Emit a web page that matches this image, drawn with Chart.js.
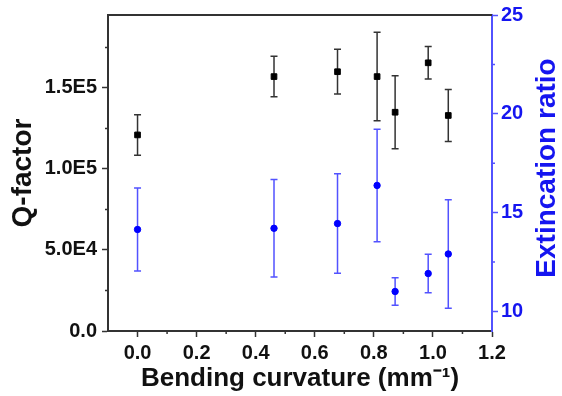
<!DOCTYPE html>
<html>
<head>
  <meta charset="utf-8">
  <title>Q-factor and extinction ratio vs bending curvature</title>
  <script src="https://cdn.jsdelivr.net/npm/chart.js"></script>
  <style>
    body {
      margin: 0;
      padding: 0;
      background: #fff;
    }
  </style>
</head>
<body>
  <canvas id="myChart" width="562" height="396"></canvas>

  <script>
    // values
    const curvature = [0, 0.462, 0.677, 0.811, 0.872, 0.984, 1.052];
    const qFactor = [1.21e5, 1.57e5, 1.60e5, 1.57e5, 1.35e5, 1.655e5, 1.33e5];
    const qError = [1.25e4, 1.25e4, 1.38e4, 2.73e4, 2.25e4, 1.0e4, 1.6e4];
    const extRatio = [14.14, 14.2, 14.44, 16.37, 11.0, 11.91, 12.9];
    const extError = [2.1, 2.47, 2.52, 2.85, 0.69, 0.97, 2.75];

    // axis ticks
    const xTicks = [0, 0.2, 0.4, 0.6, 0.8, 1.0, 1.2];
    const xMinor = [0.1, 0.3, 0.5, 0.7, 0.9, 1.1];
    const qTicks = [0, 5e4, 1e5, 1.5e5];
    const qLabels = ['0.0', '5.0E4', '1.0E5', '1.5E5'];
    const qMinor = [2.5e4, 7.5e4, 1.25e5, 1.75e5];
    const erTicks = [10, 15, 20, 25];
    const erMinor = [12.5, 17.5, 22.5];

    const FONT = "'Liberation Sans', Arial, sans-serif";
    const DARK = '#333';
    const BLUE = '#1515f0';
    const LIGHTBLUE = '#5252ff';

    const extras = {
      id: 'extras',
      beforeDatasetsDraw(chart) {
        const ctx = chart.ctx;
        const xs = chart.scales.x;
        const bars = [
          { scale: chart.scales.y, vals: qFactor, err: qError, color: DARK },
          { scale: chart.scales.y2, vals: extRatio, err: extError, color: LIGHTBLUE }
        ];
        ctx.save();
        ctx.lineWidth = 1.5;
        bars.forEach(b => {
          ctx.strokeStyle = b.color;
          curvature.forEach((c, i) => {
            const px = xs.getPixelForValue(c);
            const top = b.scale.getPixelForValue(b.vals[i] + b.err[i]);
            const bot = b.scale.getPixelForValue(b.vals[i] - b.err[i]);
            ctx.beginPath();
            ctx.moveTo(px, top); ctx.lineTo(px, bot);
            ctx.moveTo(px - 3.5, top); ctx.lineTo(px + 3.5, top);
            ctx.moveTo(px - 3.5, bot); ctx.lineTo(px + 3.5, bot);
            ctx.stroke();
          });
        });
        ctx.restore();
      },
      afterDraw(chart) {
        const ctx = chart.ctx;
        const a = chart.chartArea;
        const { x, y, y2 } = chart.scales;
        ctx.save();
        // top frame line
        ctx.strokeStyle = DARK;
        ctx.lineWidth = 2;
        ctx.beginPath();
        ctx.moveTo(a.left, a.top);
        ctx.lineTo(a.right, a.top);
        ctx.stroke();
        // minor ticks
        ctx.lineWidth = 1.5;
        ctx.beginPath();
        xMinor.forEach(v => {
          const px = x.getPixelForValue(v);
          ctx.moveTo(px, a.bottom); ctx.lineTo(px, a.bottom + 3);
        });
        qMinor.forEach(v => {
          const py = y.getPixelForValue(v);
          ctx.moveTo(a.left, py); ctx.lineTo(a.left - 3, py);
        });
        ctx.stroke();
        ctx.strokeStyle = LIGHTBLUE;
        ctx.beginPath();
        erMinor.forEach(v => {
          const py = y2.getPixelForValue(v);
          ctx.moveTo(a.right, py); ctx.lineTo(a.right + 3, py);
        });
        ctx.stroke();
        // right axis title, reading bottom to top
        ctx.translate(547, 168);
        ctx.rotate(-Math.PI / 2);
        ctx.fillStyle = BLUE;
        ctx.font = 'bold 28px ' + FONT;
        ctx.textAlign = 'center';
        ctx.textBaseline = 'middle';
        ctx.fillText('Extincation ratio', 0, 0);
        ctx.restore();
      }
    };

    const ctx = document.getElementById('myChart').getContext('2d');
    const chart = new Chart(ctx, {
      type: 'scatter',
      data: {
        datasets: [{
          label: 'Q-factor',
          data: curvature.map((c, i) => ({ x: c, y: qFactor[i] })),
          yAxisID: 'y',
          pointStyle: 'rect',
          pointRadius: 4,
          borderWidth: 1,
          backgroundColor: '#000',
          borderColor: '#000'
        }, {
          label: 'Extincation ratio',
          data: curvature.map((c, i) => ({ x: c, y: extRatio[i] })),
          yAxisID: 'y2',
          pointStyle: 'circle',
          pointRadius: 3.2,
          borderWidth: 1,
          backgroundColor: '#0000ff',
          borderColor: '#0000ff'
        }]
      },
      options: {
        responsive: false,
        animation: false,
        layout: { padding: { top: 15, left: 0, right: 0, bottom: 0 } },
        plugins: {
          legend: { display: false },
          tooltip: { enabled: false }
        },
        scales: {
          x: {
            type: 'linear',
            min: -0.1,
            max: 1.2,
            afterBuildTicks: s => { s.ticks = xTicks.map(v => ({ value: v })); },
            afterFit: s => { s.height = 65; },
            border: { color: DARK, width: 2 },
            grid: { drawOnChartArea: false, tickLength: 6, tickColor: DARK, tickWidth: 1.5 },
            ticks: {
              autoSkip: false,
              maxRotation: 0,
              padding: 4,
              color: '#111',
              font: { family: FONT, weight: 'bold', size: 20 },
              callback: v => v.toFixed(1)
            },
            title: {
              display: true,
              text: 'Bending curvature (mm⁻¹)',
              color: '#111',
              padding: { top: 0, bottom: 2 },
              font: { family: FONT, weight: 'bold', size: 26 }
            }
          },
          y: {
            position: 'left',
            min: 0,
            max: 1.95e5,
            afterBuildTicks: s => { s.ticks = qTicks.map(v => ({ value: v })); },
            afterFit: s => { s.width = 108; s.paddingTop = 0; s.paddingBottom = 0; },
            border: { color: DARK, width: 2 },
            grid: { drawOnChartArea: false, tickLength: 6, tickColor: DARK, tickWidth: 1.5 },
            ticks: {
              padding: 5,
              color: '#111',
              font: { family: FONT, weight: 'bold', size: 20 },
              callback: v => qLabels[qTicks.indexOf(v)]
            },
            title: {
              display: true,
              text: 'Q-factor',
              color: '#111',
              padding: { top: 6, bottom: 0 },
              font: { family: FONT, weight: 'bold', size: 28 }
            }
          },
          y2: {
            position: 'right',
            min: 9,
            max: 25,
            afterBuildTicks: s => { s.ticks = erTicks.map(v => ({ value: v })); },
            afterFit: s => { s.width = 70; s.paddingTop = 0; s.paddingBottom = 0; },
            border: { color: LIGHTBLUE, width: 2 },
            grid: { drawOnChartArea: false, tickLength: 6, tickColor: LIGHTBLUE, tickWidth: 1.5 },
            ticks: {
              padding: 3,
              color: BLUE,
              font: { family: FONT, weight: 'bold', size: 20 },
              callback: v => String(v)
            }
          }
        }
      },
      plugins: [extras]
    });
  </script>
</body>
</html>
